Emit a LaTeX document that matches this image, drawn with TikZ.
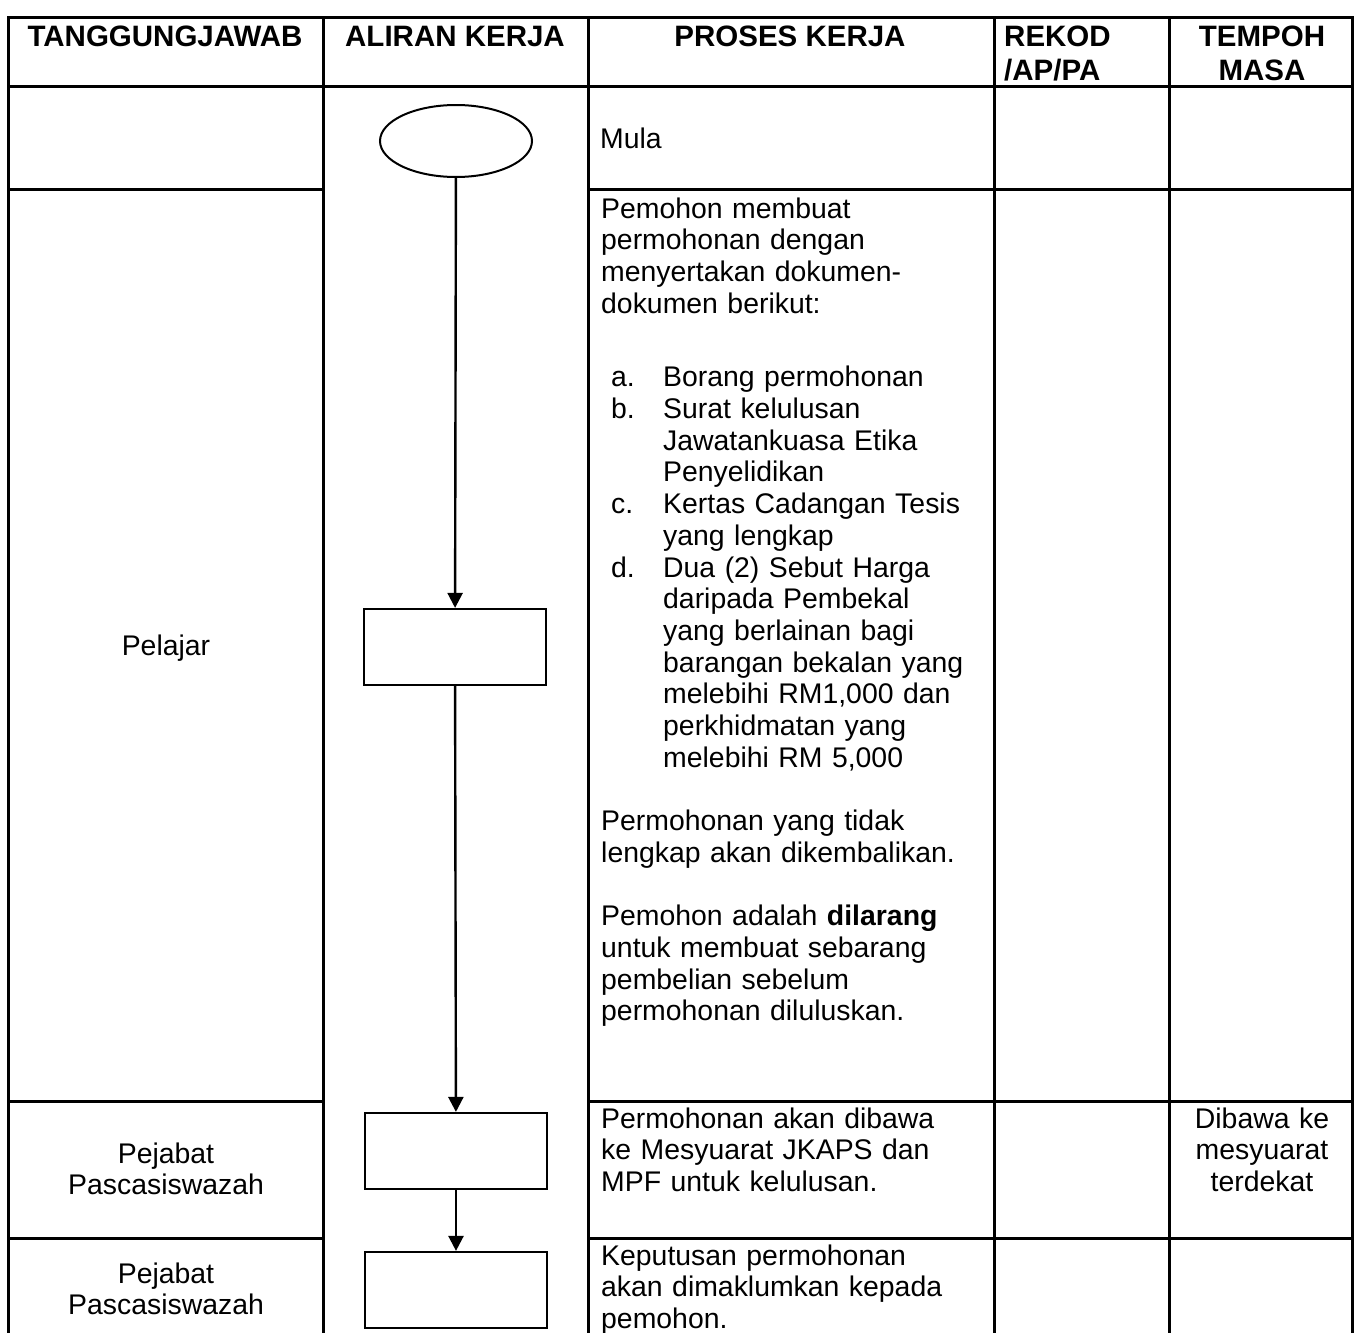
\documentclass[tikz,border=0pt]{standalone}
\usepackage{fontspec}
\setmainfont{Liberation Sans}
\usetikzlibrary{positioning,arrows.meta,shapes.geometric}
\tikzset{
  grid/.style={line width=3pt, line cap=rect, draw=black},
  flowbox/.style={draw=black, line width=2.2pt, minimum width=182pt, minimum height=76pt, inner sep=0pt},
  startend/.style={ellipse, draw=black, line width=2pt, minimum width=152pt, minimum height=72pt, inner sep=0pt},
  flowline/.style={line width=2.4pt, draw=black, -{Triangle[width=15pt,length=15pt]}},
  headtext/.style={font=\fontsize{29.5pt}{34pt}\selectfont\bfseries, inner sep=0pt, align=center},
  celltext/.style={font=\fontsize{28.4pt}{31.7pt}\selectfont, inner sep=0pt}
}

\begin{document}
\begin{tikzpicture}[x=1pt, y=-1pt]
    \useasboundingbox (0,0) rectangle (1360,1333);
    \clip (0,0) rectangle (1360,1333);
    % table lines
    \draw[grid] (8,17) -- (1352,17);
    \draw[grid] (8,86) -- (1352,86);
    \foreach \y in {189,1101,1238} {
      \draw[grid] (8,\y) -- (323,\y);
      \draw[grid] (588,\y) -- (1352,\y);
    }
    \foreach \x in {8,323,588,994,1169,1352}
      \draw[grid] (\x,17) -- (\x,1345);
    %
    % header
    \node[headtext, anchor=base] (hTang) at (165,46) {TANGGUNGJAWAB};
    \node[headtext, anchor=base] (hAliran) at (455,46) {ALIRAN KERJA};
    \node[headtext, anchor=base] (hProses) at (790,46) {PROSES KERJA};
    \node[headtext, text width=160pt, align=left, anchor=base west] (hRekod) at (1004,46) {REKOD\\/AP/PA};
    \node[headtext, text width=180pt, anchor=base] (hTempoh) at (1262,46) {TEMPOH\\MASA};
    %
    % who
    \node[celltext, anchor=base] (pelajar) at (166,655) {Pelajar};
    \node[celltext, text width=310pt, align=center, anchor=base] (pejabatA) at (166,1163) {Pejabat\\Pascasiswazah};
    \node[celltext, text width=310pt, align=center, anchor=base] (pejabatB) at (166,1283) {Pejabat\\Pascasiswazah};
    %
    % flow
    \node[startend] (mula) at (456,141) {};
    \node[flowbox] (mohon) at (455,647) {};
    \node[flowbox] (bawa) at (456,1151) {};
    \node[flowbox] (putus) at (456,1290) {};
    \draw[flowline] (mula) -- (mohon);
    \draw[flowline] (mohon) -- (bawa);
    \draw[flowline] (bawa) -- (putus);
    %
    % process text
    \node[celltext, anchor=base west] (tMula) at (600,148) {Mula};
    \node[celltext, text width=392pt, align=left, anchor=base west] (tMohon) at (601,218)
      {Pemohon membuat\\permohonan dengan\\menyertakan dokumen-\\dokumen berikut:\\[42pt]
       \hspace*{10pt}\makebox[52pt][l]{a.}Borang permohonan\\
       \hspace*{10pt}\makebox[52pt][l]{b.}Surat kelulusan\\
       \hspace*{62pt}Jawatankuasa Etika\\
       \hspace*{62pt}Penyelidikan\\
       \hspace*{10pt}\makebox[52pt][l]{c.}Kertas Cadangan Tesis\\
       \hspace*{62pt}yang lengkap\\
       \hspace*{10pt}\makebox[52pt][l]{d.}Dua (2) Sebut Harga\\
       \hspace*{62pt}daripada Pembekal\\
       \hspace*{62pt}yang berlainan bagi\\
       \hspace*{62pt}barangan bekalan yang\\
       \hspace*{62pt}melebihi RM1,000 dan\\
       \hspace*{62pt}perkhidmatan yang\\
       \hspace*{62pt}melebihi RM 5,000\\[31.7pt]
       Permohonan yang tidak\\lengkap akan dikembalikan.\\[31.7pt]
       Pemohon adalah \textbf{dilarang}\\untuk membuat sebarang\\pembelian sebelum\\permohonan diluluskan.};
    \node[celltext, text width=392pt, align=left, anchor=base west] (tBawa) at (601,1128)
      {Permohonan akan dibawa\\ke Mesyuarat JKAPS dan\\MPF untuk kelulusan.};
    \node[celltext, text width=392pt, align=left, anchor=base west] (tPutus) at (601,1265)
      {Keputusan permohonan\\akan dimaklumkan kepada\\pemohon.};
    %
    % tempoh
    \node[celltext, text width=180pt, align=center, anchor=base] (tempohBawa) at (1262,1128) {Dibawa ke\\mesyuarat\\terdekat};
\end{tikzpicture}
\end{document}
